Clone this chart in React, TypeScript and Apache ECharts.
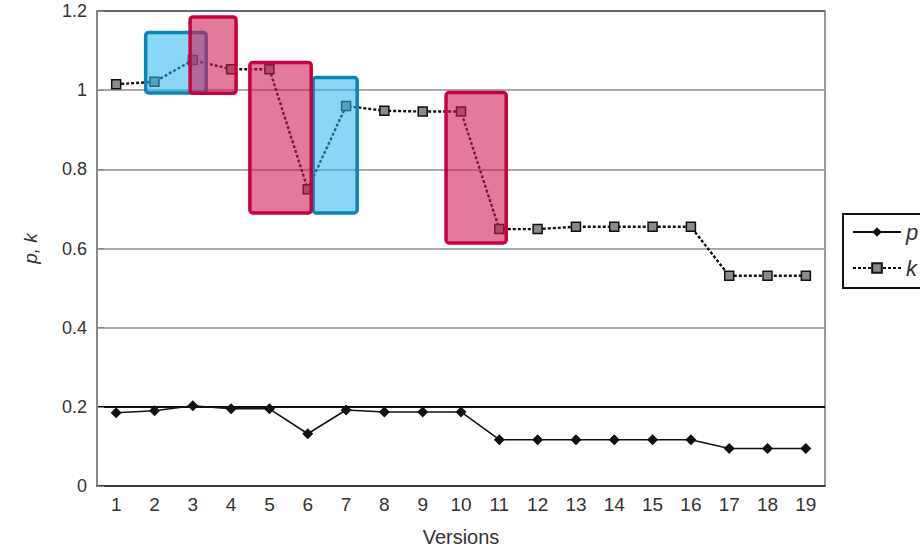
import React, { useEffect, useRef } from "react";
import * as echarts from "echarts";

// Version numbers along the x axis
const versions = ["1", "2", "3", "4", "5", "6", "7", "8", "9", "10", "11", "12", "13", "14", "15", "16", "17", "18", "19"];

// p per version
const pValues = [0.185, 0.19, 0.203, 0.195, 0.195, 0.132, 0.192, 0.187, 0.187, 0.187, 0.117, 0.117, 0.117, 0.117, 0.117, 0.117, 0.095, 0.095, 0.095];

// k per version
const kValues = [1.015, 1.021, 1.076, 1.053, 1.053, 0.75, 0.96, 0.948, 0.946, 0.946, 0.649, 0.649, 0.655, 0.655, 0.655, 0.655, 0.531, 0.531, 0.531];

// Highlight boxes, in version units (x) and p,k units (y)
const boxStart = [1.77, 6.14, 2.93, 4.49, 9.61];
const boxEnd = [3.35, 7.29, 4.13, 6.09, 11.18];
const boxLow = [0.993, 0.69, 0.992, 0.69, 0.614];
const boxHigh = [1.146, 1.032, 1.185, 1.07, 0.994];
const boxKind = ["rise", "rise", "drop", "drop", "drop"];

const FONT = "'Liberation Sans', Arial, sans-serif";

const boxColors: Record<string, { fill: string; stroke: string }> = {
  rise: { fill: "rgba(40,180,240,0.55)", stroke: "#0a86b4" },
  drop: { fill: "rgba(205,25,85,0.58)", stroke: "#c8003c" },
};

export default function App() {
  const ref = useRef<HTMLDivElement>(null);

  useEffect(() => {
    if (!ref.current) return;
    const chart = echarts.init(ref.current, undefined, { renderer: "svg" });

    const boxData = boxStart.map((s, i) => [s, boxEnd[i], boxLow[i], boxHigh[i]]);

    chart.setOption({
      animation: false,
      backgroundColor: "#ffffff",
      grid: {
        left: 97,
        right: 95,
        top: 11,
        bottom: 64,
        outerBoundsMode: "none",
        containLabel: false,
        show: true,
        borderColor: "#777",
        borderWidth: 1.5,
      },
      legend: {
        data: ["p", "k"],
        orient: "vertical",
        left: 843,
        top: 214,
        itemWidth: 48,
        itemHeight: 12,
        itemGap: 14,
        padding: [7, 30, 9, 9],
        borderColor: "#111",
        borderWidth: 2,
        textStyle: { fontSize: 22, fontStyle: "italic", color: "#333", fontFamily: FONT },
      },
      xAxis: [
        {
          type: "category",
          data: versions,
          name: "Versions",
          nameLocation: "middle",
          nameGap: 41,
          nameTextStyle: { fontSize: 20, color: "#333", fontFamily: FONT },
          axisLine: { lineStyle: { color: "#333", width: 1.5 } },
          axisTick: { inside: true, length: 6, lineStyle: { color: "#333", width: 1.2 } },
          axisLabel: { fontSize: 19, color: "#333", fontFamily: FONT, margin: 9 },
          splitLine: { show: false },
        },
        {
          type: "value",
          min: 0.5,
          max: 19.5,
          show: false,
        },
      ],
      yAxis: {
        type: "value",
        min: 0,
        max: 1.2,
        interval: 0.2,
        name: "p, k",
        nameLocation: "middle",
        nameGap: 57,
        nameTextStyle: { fontSize: 19, fontStyle: "italic", color: "#333", fontFamily: FONT },
        axisLine: { show: true, lineStyle: { color: "#888", width: 2 } },
        axisTick: { show: true, inside: true, length: 7, lineStyle: { color: "#888" } },
        axisLabel: { fontSize: 18, color: "#333", fontFamily: FONT, margin: 10 },
        splitLine: {
          show: true,
          lineStyle: {
            color: ["#444", "#111", "#aaa", "#aaa", "#aaa", "#aaa", "#666"],
            width: 2,
          },
        },
      },
      series: [
        {
          name: "p",
          type: "line",
          data: pValues,
          symbol: "diamond",
          symbolSize: 11,
          itemStyle: { color: "#111" },
          lineStyle: { color: "#111", width: 1.5 },
          z: 3,
        },
        {
          name: "k",
          type: "line",
          data: kValues,
          symbol: "rect",
          symbolSize: 9,
          itemStyle: { color: "#8a8a8a", borderColor: "#111", borderWidth: 1.5 },
          lineStyle: { color: "#111", width: 2.4, type: [3, 2] },
          z: 3,
        },
        {
          name: "highlights",
          type: "custom",
          coordinateSystem: "cartesian2d",
          xAxisIndex: 1,
          yAxisIndex: 0,
          data: boxData,
          encode: { x: [0, 1], y: [2, 3] },
          z: 6,
          silent: true,
          renderItem: (params: any, api: any) => {
            const tl = api.coord([api.value(0), api.value(3)]);
            const br = api.coord([api.value(1), api.value(2)]);
            const c = boxColors[boxKind[params.dataIndex]];
            return {
              type: "rect",
              shape: { x: tl[0], y: tl[1], width: br[0] - tl[0], height: br[1] - tl[1], r: 3 },
              style: { fill: c.fill, stroke: c.stroke, lineWidth: 3.5 },
            };
          },
        },
      ],
    });

    return () => chart.dispose();
  }, []);

  return (
    <div
      ref={ref}
      style={{ position: "fixed", left: 0, top: 0, width: 920, height: 550, background: "#fff" }}
    />
  );
}
